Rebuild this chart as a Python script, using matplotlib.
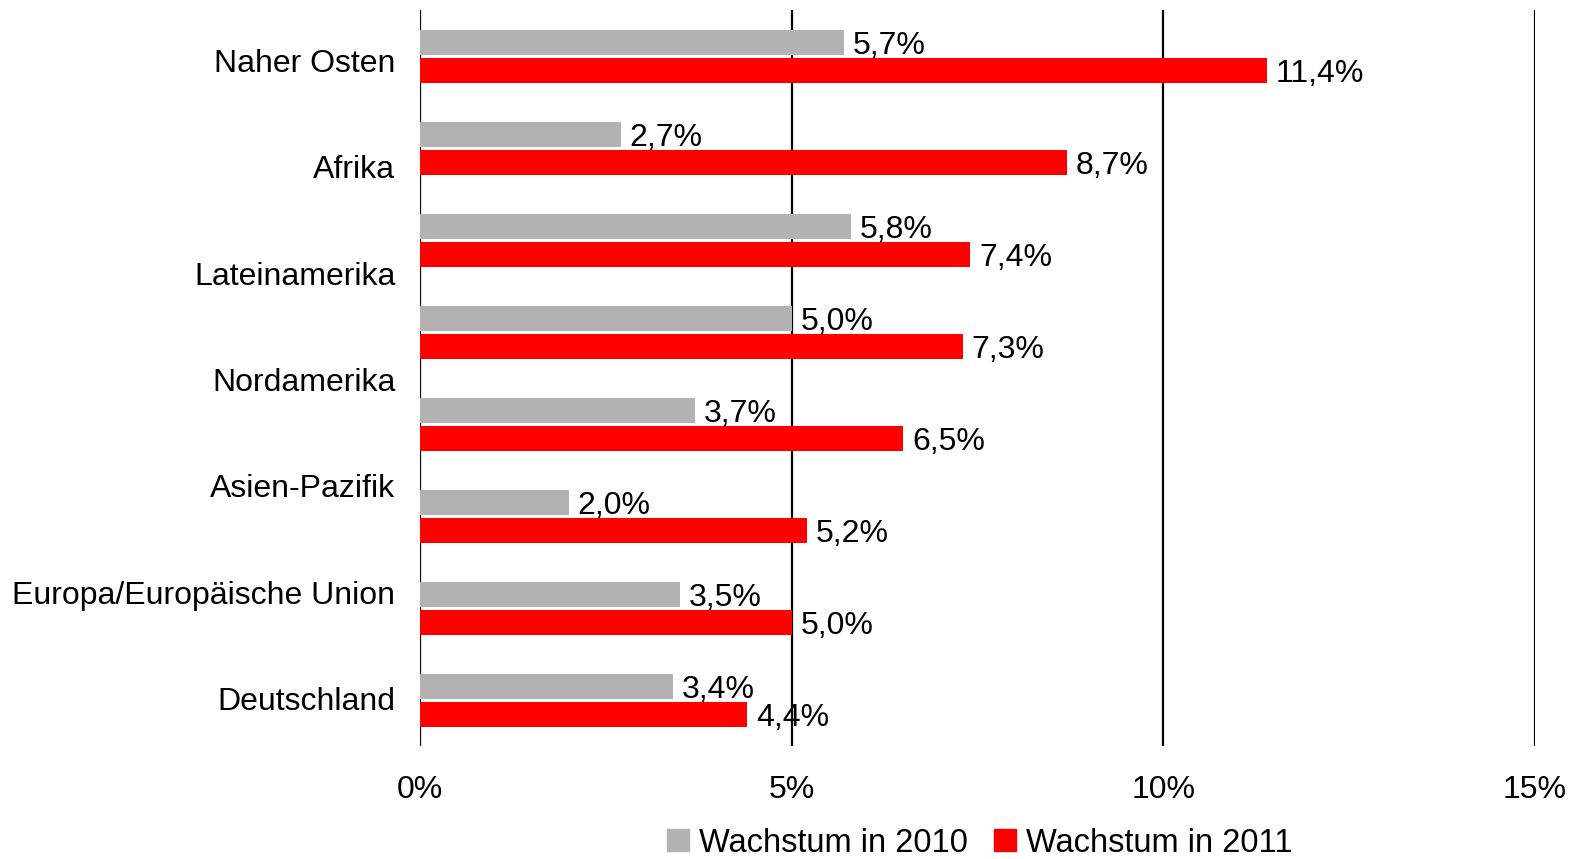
import matplotlib
matplotlib.use("Agg")
import matplotlib.pyplot as plt
import matplotlib.patches as mpatches
import numpy as np

plt.rcParams["font.family"] = ["Liberation Sans", "DejaVu Sans"]

# category labels (7) as shown on the left axis
categories = ["Naher Osten", "Afrika", "Lateinamerika", "Nordamerika",
              "Asien-Pazifik", "Europa/Europäische Union", "Deutschland"]

# bar values (8 pairs, top to bottom)
growth_2010 = [5.7, 2.7, 5.8, 5.0, 3.7, 2.0, 3.5, 3.4]
growth_2011 = [11.4, 8.7, 7.4, 7.3, 6.5, 5.2, 5.0, 4.4]

x_ticks = [0, 5, 10, 15]

gray = "#B2B2B2"
red = "#FF0000"
fs = 23

fig = plt.figure(figsize=(15.8, 8.59), dpi=100)
ax = fig.add_axes([0.266, 0.1315, 0.7053, 0.8568])

n = len(growth_2010)
pos = np.arange(n)
h = 0.275
ax.barh(pos - 0.15, growth_2010, height=h, color=gray, zorder=3)
ax.barh(pos + 0.155, growth_2011, height=h, color=red, zorder=3)

def fmt(v):
    return f"{v:.1f}%".replace(".", ",")

for y, v in zip(pos - 0.15, growth_2010):
    ax.text(v + 0.12, y + 0.04, fmt(v), va="center", ha="left", fontsize=fs, zorder=4)
for y, v in zip(pos + 0.155, growth_2011):
    ax.text(v + 0.12, y + 0.04, fmt(v), va="center", ha="left", fontsize=fs, zorder=4)

ax.set_ylim(n - 0.5, -0.5)
ax.set_xlim(0, 15)

# the 7 category labels are spread evenly over the full height (not aligned with the 8 bar pairs)
label_pos = np.linspace(0.05, n - 1.015, len(categories))
ax.set_yticks(label_pos)
ax.set_yticklabels(categories, fontsize=fs)

ax.set_xticks(x_ticks)
ax.set_xticklabels([f"{t}%" for t in x_ticks], fontsize=fs)
ax.tick_params(axis="both", length=0)
ax.tick_params(axis="y", pad=18)
ax.tick_params(axis="x", pad=21)

for s in ax.spines.values():
    s.set_visible(False)
ax.grid(axis="x", color="black", linewidth=1.6, zorder=0)
ax.set_axisbelow(True)

handles = [mpatches.Patch(color=gray, label="Wachstum in 2010"),
           mpatches.Patch(color=red, label="Wachstum in 2011")]
fig.legend(handles=handles, loc="center", bbox_to_anchor=(980 / 1580, 1 - 843 / 859),
           ncol=2, frameon=False, fontsize=23.5, handlelength=0.68, handleheight=0.68,
           handletextpad=0.3, columnspacing=0.8, borderpad=0)

fig.savefig("out.png", dpi=100)
